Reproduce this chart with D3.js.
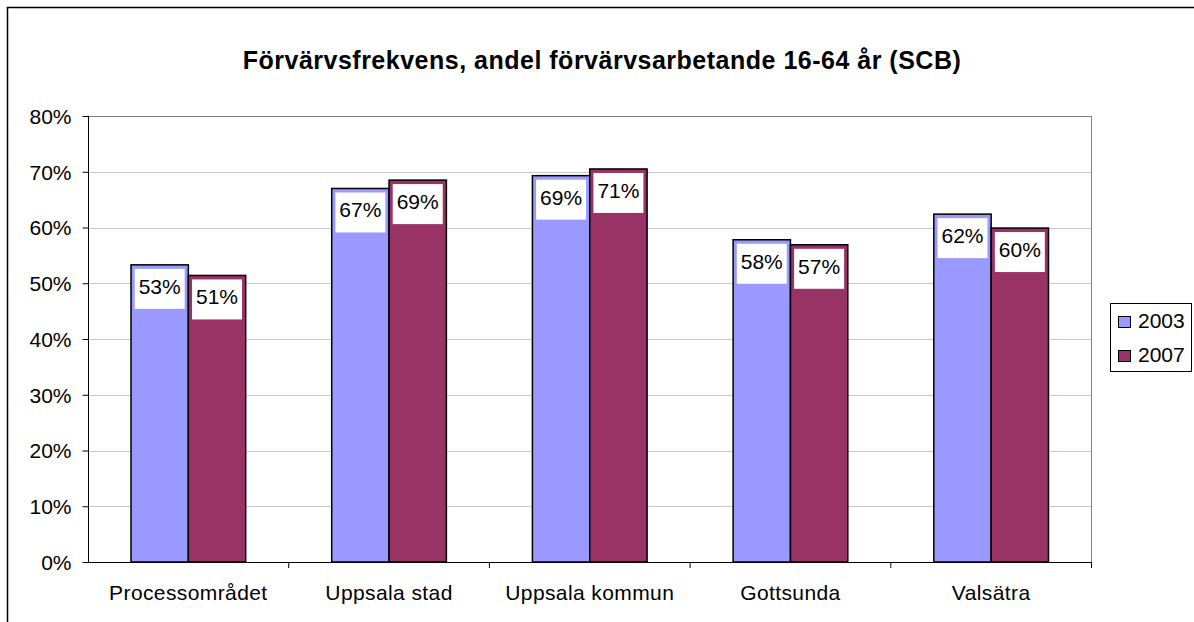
<!DOCTYPE html>
<html>
<head>
<meta charset="utf-8">
<script src="https://cdn.jsdelivr.net/npm/d3@7"></script>
<style>
  body { margin: 0; background: #fff; }
  text { font-family: "Liberation Sans", Arial, sans-serif; fill: #000; }
</style>
</head>
<body>
<svg id="chart" width="1194" height="622"></svg>
<script>
const categories = ["Processområdet", "Uppsala stad", "Uppsala kommun", "Gottsunda", "Valsätra"];
const seriesNames = ["2003", "2007"];
const values2003 = [0.533, 0.670, 0.693, 0.578, 0.624];
const values2007 = [0.514, 0.685, 0.705, 0.569, 0.599];
const yTicks = [0, 0.1, 0.2, 0.3, 0.4, 0.5, 0.6, 0.7, 0.8];
const colors = ["#9999ff", "#993366"];

const plot = { left: 88, right: 1091.5, top: 116, bottom: 562 };

let svg = d3.select("#chart");

// outer chart border (runs off right/bottom edge)
svg.append("rect")
  .attr("x", 7.5).attr("y", 7.5)
  .attr("width", 1200).attr("height", 700)
  .style("fill", "#fff")
  .style("stroke", "#000")
  .style("stroke-width", 1.5);

svg.append("text")
  .attr("x", 602)
  .attr("y", 69)
  .text("Förvärvsfrekvens, andel förvärvsarbetande 16-64 år (SCB)")
  .style("text-anchor", "middle")
  .style("font-weight", "bold")
  .style("letter-spacing", "0.5px")
  .style("font-size", "25px");

let yScale = d3.scaleLinear()
  .domain([0, 0.8])
  .range([plot.bottom, plot.top]);

let xScale = d3.scaleBand()
  .domain(categories)
  .range([plot.left, plot.right]);

// gap width 150%: bar = band / 3.5
let barW = xScale.bandwidth() / 3.5;

// gridlines
svg.selectAll(".grid")
  .data(yTicks.slice(1))
  .enter()
  .append("line")
    .attr("x1", plot.left).attr("x2", plot.right)
    .attr("y1", d => Math.round(yScale(d)) + 0.5)
    .attr("y2", d => Math.round(yScale(d)) + 0.5)
    .style("stroke", (d, i) => i == yTicks.length - 2 ? "#808080" : "#c8c8c8")
    .style("stroke-width", 1);

// plot area right border
svg.append("line")
  .attr("x1", plot.right).attr("x2", plot.right)
  .attr("y1", plot.top).attr("y2", plot.bottom)
  .style("stroke", "#808080");

let rows = categories.map((c, i) => [values2003[i], values2007[i]]);

let groups = svg.selectAll(".grp")
  .data(rows)
  .enter()
  .append("g")
  .attr("transform", (d, i) => `translate(${xScale(categories[i]) + barW * 0.75},0)`);

groups.selectAll("rect")
  .data(d => d)
  .enter()
  .append("rect")
    .attr("x", (d, j) => j * barW)
    .attr("y", d => yScale(d))
    .attr("width", barW)
    .attr("height", d => plot.bottom - yScale(d))
    .style("fill", (d, j) => colors[j])
    .style("stroke", "#000")
    .style("stroke-width", 1.5);

// value labels in white boxes
groups.selectAll(".lblBox")
  .data(d => d)
  .enter()
  .append("rect")
    .attr("x", (d, j) => j * barW + barW / 2 - 25)
    .attr("y", d => yScale(d) + 4)
    .attr("width", 50)
    .attr("height", 40)
    .style("fill", "#fff");

groups.selectAll(".lbl")
  .data(d => d)
  .enter()
  .append("text")
    .attr("x", (d, j) => j * barW + barW / 2)
    .attr("y", d => yScale(d) + 29)
    .text(d => d3.format(".0%")(d))
    .style("text-anchor", "middle")
    .style("font-size", "21px");

// y axis
let yAxis = d3.axisLeft(yScale)
  .tickValues(yTicks)
  .tickFormat(d3.format(".0%"))
  .tickSize(6)
  .tickPadding(11);
let gy = svg.append("g")
  .attr("transform", `translate(${plot.left + 0.5},0)`)
  .call(yAxis);
gy.select(".domain").style("stroke", "#000").attr("d", `M0,${plot.top}V${plot.bottom}`);
gy.selectAll(".tick line").style("stroke", "#000");
gy.selectAll(".tick text")
  .style("font-size", "21px")
  .style("font-family", "Liberation Sans, Arial, sans-serif")
  .attr("dy", "0.35em");

// x axis
svg.append("line")
  .attr("x1", plot.left).attr("x2", plot.right)
  .attr("y1", plot.bottom + 0.5).attr("y2", plot.bottom + 0.5)
  .style("stroke", "#000");
svg.selectAll(".xtick")
  .data(categories)
  .enter()
  .append("line")
    .attr("x1", d => xScale(d) + xScale.bandwidth())
    .attr("x2", d => xScale(d) + xScale.bandwidth())
    .attr("y1", plot.bottom).attr("y2", plot.bottom + 6)
    .style("stroke", "#000");
svg.selectAll(".xlbl")
  .data(categories)
  .enter()
  .append("text")
    .attr("x", d => xScale(d) + xScale.bandwidth() / 2)
    .attr("y", 600)
    .text(d => d)
    .style("text-anchor", "middle")
    .style("letter-spacing", "0.4px")
    .style("font-size", "21px");

// legend
let legend = svg.append("g");
legend.append("rect")
  .attr("x", 1110.5).attr("y", 303.5)
  .attr("width", 81).attr("height", 68)
  .style("fill", "#fff")
  .style("stroke", "#000");
legend.selectAll(".sw")
  .data(seriesNames)
  .enter()
  .append("rect")
    .attr("x", 1118.5)
    .attr("y", (d, i) => 316.5 + i * 34)
    .attr("width", 12).attr("height", 11)
    .style("fill", (d, i) => colors[i])
    .style("stroke", "#000");
legend.selectAll(".lt")
  .data(seriesNames)
  .enter()
  .append("text")
    .attr("x", 1138)
    .attr("y", (d, i) => 328 + i * 34)
    .text(d => d)
    .style("font-size", "21px");
</script>
</body>
</html>
